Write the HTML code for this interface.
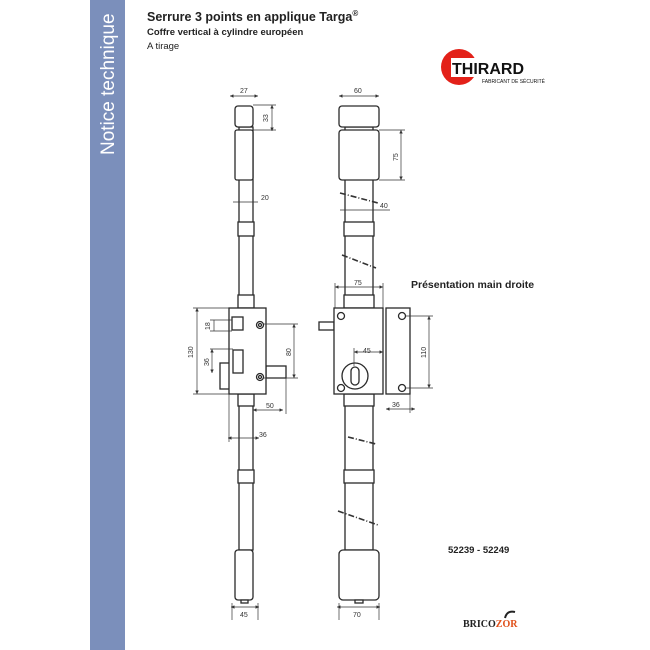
<!DOCTYPE html>
<html><head><meta charset="utf-8"><style>
html,body{margin:0;padding:0;background:#fff;width:650px;height:650px;overflow:hidden}
svg{display:block;font-family:"Liberation Sans","DejaVu Sans",sans-serif}
</style></head><body>
<svg width="650" height="650" viewBox="0 0 650 650" xmlns="http://www.w3.org/2000/svg">
<defs>
<marker id="a" viewBox="0 0 6 6" refX="6" refY="3" markerWidth="5" markerHeight="5" orient="auto-start-reverse"><path d="M0,0L6,3L0,6z" fill="#333"/></marker>
</defs>
<rect x="90" y="0" width="35" height="650" fill="#7b8fbb"/>
<text transform="translate(114,155) rotate(-90)" font-size="19" fill="#fff">Notice technique</text>
<text x="147" y="21" font-size="12.5" font-weight="bold" fill="#222">Serrure 3 points en applique Targa<tspan font-size="8" dy="-5">®</tspan></text>
<text x="147" y="35" font-size="9.5" font-weight="bold" fill="#222">Coffre vertical à cylindre européen</text>
<text x="147" y="49" font-size="9.5" fill="#222">A tirage</text>
<!-- logo -->
<circle cx="459" cy="67" r="18" fill="#e32119"/>
<rect x="451" y="58" width="82" height="19" fill="#fff"/>
<text x="452" y="74" font-size="16" font-weight="bold" fill="#111">THIRARD</text>
<text x="482" y="83" font-size="5" fill="#111">FABRICANT DE SÉCURITÉ</text>
<text x="411" y="288" font-size="10.5" font-weight="bold" fill="#222">Présentation main droite</text>
<text x="448" y="553" font-size="9.5" font-weight="bold" fill="#222">52239 - 52249</text>
<text x="463" y="627" font-size="10" font-weight="bold" fill="#222" font-family="Liberation Serif,serif">BRICO<tspan fill="#e0501a">ZOR</tspan></text>
<path d="M505,618 q2,-8 10,-6" stroke="#222" stroke-width="2" fill="none"/>
<g fill="#fff" stroke="#2a2a2a" stroke-width="1.3">
<!-- left view -->
<rect x="239" y="127" width="14" height="423"/>
<rect x="235" y="106" width="18" height="21" rx="3"/>
<rect x="235" y="130" width="18" height="50" rx="2"/>
<rect x="238" y="222" width="16" height="14"/>
<rect x="238" y="295" width="16" height="13"/>
<rect x="238" y="394" width="16" height="12"/>
<rect x="238" y="470" width="16" height="13"/>
<rect x="235" y="550" width="18" height="50" rx="3"/>
<rect x="241" y="600" width="7" height="3"/>
<rect x="220" y="363" width="10" height="26"/>
<rect x="266" y="366" width="20" height="12"/>
<rect x="229" y="308" width="37" height="86"/>
<rect x="232" y="317" width="11" height="13"/>
<rect x="233" y="350" width="10" height="23"/>
<circle cx="260" cy="325" r="3.5"/><circle cx="260" cy="325" r="1.5"/>
<circle cx="260" cy="377" r="3.5"/><circle cx="260" cy="377" r="1.5"/>
<!-- right view -->
<rect x="345" y="127" width="28" height="423"/>
<rect x="339" y="106" width="40" height="21" rx="3"/>
<rect x="339" y="130" width="40" height="50" rx="3"/>
<rect x="344" y="222" width="30" height="14"/>
<rect x="344" y="295" width="30" height="13"/>
<rect x="344" y="394" width="30" height="12"/>
<rect x="344" y="470" width="30" height="13"/>
<rect x="339" y="550" width="40" height="50" rx="4"/>
<rect x="355" y="600" width="8" height="3"/>
<rect x="319" y="322" width="15" height="8"/>
<rect x="334" y="308" width="49" height="86"/>
<rect x="386" y="308" width="24" height="86"/>
<circle cx="355" cy="376" r="13"/>
<rect x="351" y="367" width="8" height="18" rx="4"/>
<circle cx="341" cy="316" r="3.5"/><circle cx="402" cy="316" r="3.5"/>
<circle cx="341" cy="388" r="3.5"/><circle cx="402" cy="388" r="3.5"/>
</g>
<g stroke="#333" stroke-width="1.6" stroke-dasharray="6,2,1,2" fill="none">
<line x1="340" y1="193" x2="378" y2="203"/>
<line x1="342" y1="255" x2="376" y2="268"/>
<line x1="348" y1="437" x2="376" y2="444"/>
<line x1="338" y1="511" x2="378" y2="525"/>
</g>
<g stroke="#333" stroke-width="0.7" fill="none">
<line x1="230" y1="96" x2="258" y2="96" marker-start="url(#a)" marker-end="url(#a)"/>
<line x1="272" y1="105" x2="272" y2="131" marker-start="url(#a)" marker-end="url(#a)"/>
<line x1="253" y1="105" x2="276" y2="105"/><line x1="253" y1="130" x2="276" y2="130"/>
<line x1="233" y1="202" x2="258" y2="202"/>
<line x1="197" y1="308" x2="197" y2="394" marker-start="url(#a)" marker-end="url(#a)"/>
<line x1="193" y1="308" x2="229" y2="308"/><line x1="193" y1="394" x2="229" y2="394"/>
<line x1="214" y1="320" x2="214" y2="331"/><line x1="210" y1="320" x2="232" y2="320"/><line x1="210" y1="331" x2="232" y2="331"/>
<line x1="212" y1="349" x2="212" y2="373" marker-start="url(#a)" marker-end="url(#a)"/><line x1="210" y1="349" x2="233" y2="349"/>
<line x1="294" y1="324" x2="294" y2="378" marker-start="url(#a)" marker-end="url(#a)"/>
<line x1="263" y1="324" x2="298" y2="324"/><line x1="263" y1="378" x2="298" y2="378"/>
<line x1="253" y1="410" x2="283" y2="410" marker-start="url(#a)" marker-end="url(#a)"/><line x1="286" y1="378" x2="286" y2="414"/>
<line x1="228" y1="438" x2="259" y2="438" marker-start="url(#a)" marker-end="url(#a)"/><line x1="229" y1="394" x2="229" y2="442"/>
<line x1="231" y1="607" x2="259" y2="607" marker-start="url(#a)" marker-end="url(#a)"/>
<line x1="232" y1="603" x2="232" y2="620"/><line x1="258" y1="603" x2="258" y2="620"/>
<line x1="339" y1="96" x2="379" y2="96" marker-start="url(#a)" marker-end="url(#a)"/>
<line x1="401" y1="130" x2="401" y2="180" marker-start="url(#a)" marker-end="url(#a)"/>
<line x1="379" y1="130" x2="405" y2="130"/><line x1="379" y1="180" x2="405" y2="180"/>
<line x1="340" y1="210" x2="390" y2="210"/>
<line x1="335" y1="287" x2="383" y2="287" marker-start="url(#a)" marker-end="url(#a)"/>
<line x1="335" y1="283" x2="335" y2="308"/><line x1="383" y1="283" x2="383" y2="308"/>
<line x1="354" y1="352" x2="383" y2="352" marker-start="url(#a)" marker-end="url(#a)"/><line x1="354" y1="348" x2="354" y2="366"/>
<line x1="429" y1="316" x2="429" y2="388" marker-start="url(#a)" marker-end="url(#a)"/>
<line x1="405" y1="316" x2="433" y2="316"/><line x1="405" y1="388" x2="433" y2="388"/>
<line x1="386" y1="409" x2="415" y2="409" marker-start="url(#a)" marker-end="url(#a)"/><line x1="410" y1="394" x2="410" y2="413"/>
<line x1="337" y1="607" x2="380" y2="607" marker-start="url(#a)" marker-end="url(#a)"/>
<line x1="339" y1="603" x2="339" y2="620"/><line x1="379" y1="603" x2="379" y2="620"/>
</g>
<g font-size="7" fill="#333">
<text x="240" y="93">27</text>
<text transform="translate(268,122) rotate(-90)">33</text>
<text x="261" y="200">20</text>
<text transform="translate(193,358) rotate(-90)">130</text>
<text transform="translate(210,330) rotate(-90)">18</text>
<text transform="translate(209,366) rotate(-90)">36</text>
<text transform="translate(291,356) rotate(-90)">80</text>
<text x="266" y="408">50</text>
<text x="259" y="437">36</text>
<text x="240" y="617">45</text>
<text x="354" y="93">60</text>
<text transform="translate(398,161) rotate(-90)">75</text>
<text x="380" y="208">40</text>
<text x="354" y="285">75</text>
<text x="363" y="353">45</text>
<text transform="translate(426,358) rotate(-90)">110</text>
<text x="392" y="407">36</text>
<text x="353" y="617">70</text>
</g>
</svg>
</body></html>
